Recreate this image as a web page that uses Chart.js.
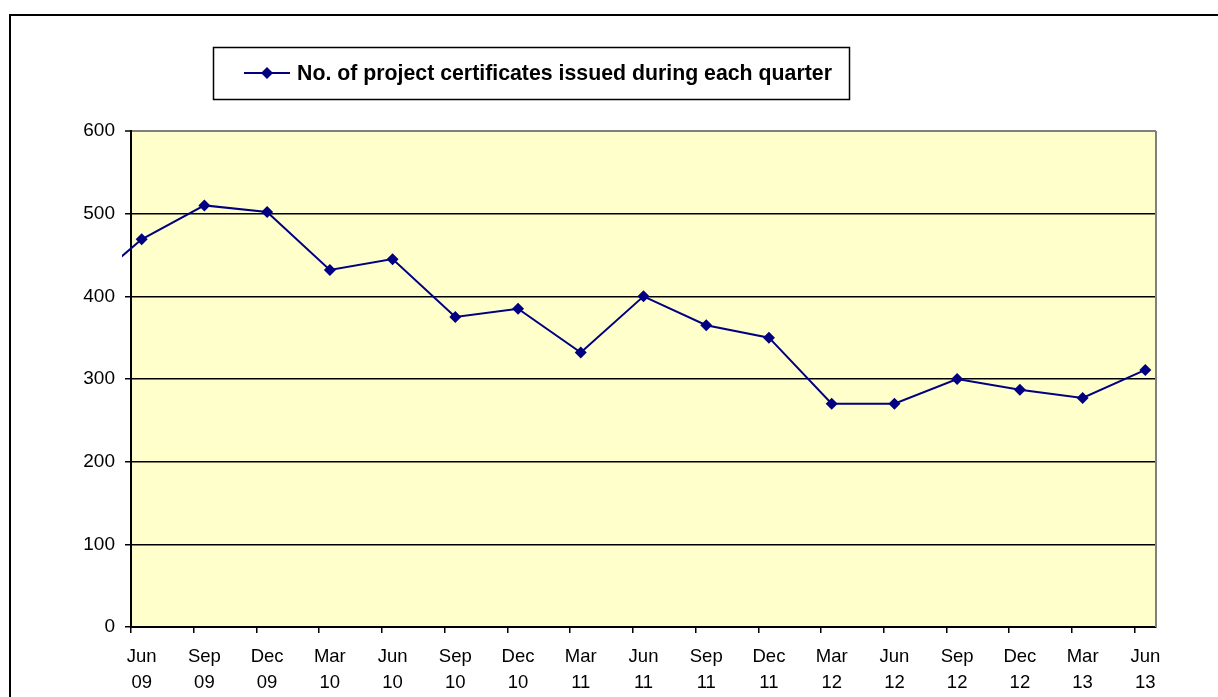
<!DOCTYPE html>
<html>
<head>
<meta charset="utf-8">
<script src="https://cdn.jsdelivr.net/npm/chart.js@4.4.0/dist/chart.umd.min.js"></script>
<style>
    html, body { margin: 0; padding: 0; background: #ffffff; }
    #wrap { width: 1218px; height: 697px; }
</style>
</head>
<body>
<div id="wrap"><canvas id="certChart" width="1218" height="697"></canvas></div>
<script>
// Quarter labels and values
const quarterLabels = ['Jun 09', 'Sep 09', 'Dec 09', 'Mar 10', 'Jun 10', 'Sep 10', 'Dec 10', 'Mar 11', 'Jun 11',
    'Sep 11', 'Dec 11', 'Mar 12', 'Jun 12', 'Sep 12', 'Dec 12', 'Mar 13', 'Jun 13'];
const certificates = [469, 510, 502, 432, 445, 375, 385, 332, 400, 365, 350, 270, 270, 300, 287, 277, 311];
// Mar 09 sits outside the plot, only the stub of its segment shows at the left edge
const priorQuarterValue = 404;
const yTicks = [0, 100, 200, 300, 400, 500, 600];
const seriesName = 'No. of project certificates issued during each quarter';

const FONT = '"Liberation Sans", Arial, sans-serif';
const NAVY = '#000080';
const xMin = -0.17;
const xMax = quarterLabels.length - 1 + 0.17;

const points = [{ x: -1, y: priorQuarterValue }].concat(certificates.map((v, i) => ({ x: i, y: v })));

// Frame, plot fill, plot border and the boxed legend
const decorPlugin = {
    id: 'decor',
    beforeDraw(chart) {
        const { ctx, chartArea: a, width, height } = chart;
        ctx.save();
        ctx.fillStyle = '#ffffff';
        ctx.fillRect(0, 0, width, height);
        ctx.fillStyle = '#FFFFCC';
        ctx.fillRect(a.left, a.top, a.right - a.left, a.bottom - a.top);
        ctx.strokeStyle = '#000000';
        ctx.lineWidth = 2;
        ctx.beginPath();
        ctx.moveTo(10, height);
        ctx.lineTo(10, 15);
        ctx.lineTo(width, 15);
        ctx.stroke();
        ctx.restore();
    },
    afterDraw(chart) {
        const { ctx, chartArea: a } = chart;
        ctx.save();
        ctx.strokeStyle = '#808080';
        ctx.lineWidth = 2;
        ctx.beginPath();
        ctx.moveTo(a.right, a.top);
        ctx.lineTo(a.right, a.bottom);
        ctx.stroke();

        // legend
        ctx.strokeStyle = '#000000';
        ctx.lineWidth = 1.5;
        ctx.strokeRect(213.5, 47.5, 636, 52);
        ctx.strokeStyle = NAVY;
        ctx.lineWidth = 2;
        ctx.beginPath();
        ctx.moveTo(244, 73);
        ctx.lineTo(290, 73);
        ctx.stroke();
        ctx.fillStyle = NAVY;
        ctx.beginPath();
        ctx.moveTo(267, 67);
        ctx.lineTo(273, 73);
        ctx.lineTo(267, 79);
        ctx.lineTo(261, 73);
        ctx.closePath();
        ctx.fill();
        ctx.fillStyle = '#000000';
        ctx.font = 'bold 21.3px ' + FONT;
        ctx.textBaseline = 'middle';
        ctx.textAlign = 'left';
        ctx.fillText(seriesName, 297, 74);
        ctx.restore();
    }
};

new Chart(document.getElementById('certChart').getContext('2d'), {
    type: 'line',
    data: {
        datasets: [{
            label: seriesName,
            data: points,
            xAxisID: 'x',
            yAxisID: 'y',
            borderColor: NAVY,
            backgroundColor: NAVY,
            borderWidth: 2,
            tension: 0,
            fill: false,
            pointStyle: 'rectRot',
            pointRadius: 6,
            pointBorderWidth: 0,
            pointBackgroundColor: NAVY,
            clip: { left: 9, top: 0, right: 0, bottom: 0 }
        }]
    },
    options: {
        responsive: false,
        devicePixelRatio: 1,
        animation: false,
        layout: { padding: { top: 131, right: 62, bottom: 0, left: 0 } },
        plugins: {
            legend: { display: false },
            tooltip: { enabled: false }
        },
        scales: {
            y: {
                min: 0,
                max: 600,
                afterBuildTicks: (scale) => { scale.ticks = yTicks.map(v => ({ value: v })); },
                afterFit: (scale) => { scale.width = 131; },
                grid: {
                    color: (c) => (c.tick && c.tick.value === 600 ? '#808080' : '#000000'),
                    lineWidth: (c) => (c.tick && c.tick.value === 600 ? 2 : 1.5),
                    tickColor: '#000000',
                    tickLength: 6,
                    tickWidth: 1.5
                },
                border: { display: true, color: '#000000', width: 2 },
                ticks: {
                    color: '#000000',
                    padding: 10,
                    font: { family: FONT, size: 19 }
                }
            },
            // tick marks sit between the quarters
            xt: {
                type: 'linear',
                position: 'bottom',
                weight: 0,
                min: xMin,
                max: xMax,
                afterBuildTicks: (scale) => { scale.ticks = quarterLabels.map((_, i) => ({ value: i + xMin })); },
                grid: {
                    drawOnChartArea: false,
                    drawTicks: true,
                    tickLength: 6,
                    color: '#000000',
                    lineWidth: 1.5
                },
                border: { display: true, color: '#000000', width: 2 },
                ticks: { display: false }
            },
            // quarter labels sit under the points
            x: {
                type: 'linear',
                position: 'bottom',
                weight: 1,
                min: xMin,
                max: xMax,
                afterBuildTicks: (scale) => { scale.ticks = quarterLabels.map((_, i) => ({ value: i })); },
                afterFit: (scale) => { scale.height = 64; },
                grid: { display: false },
                border: { display: false },
                ticks: {
                    autoSkip: false,
                    maxRotation: 0,
                    padding: 3,
                    color: '#000000',
                    font: { family: FONT, size: 18.5, lineHeight: 1.42 },
                    callback: (value) => (quarterLabels[value] || '').split(' ')
                }
            }
        }
    },
    plugins: [decorPlugin]
});
</script>
</body>
</html>
